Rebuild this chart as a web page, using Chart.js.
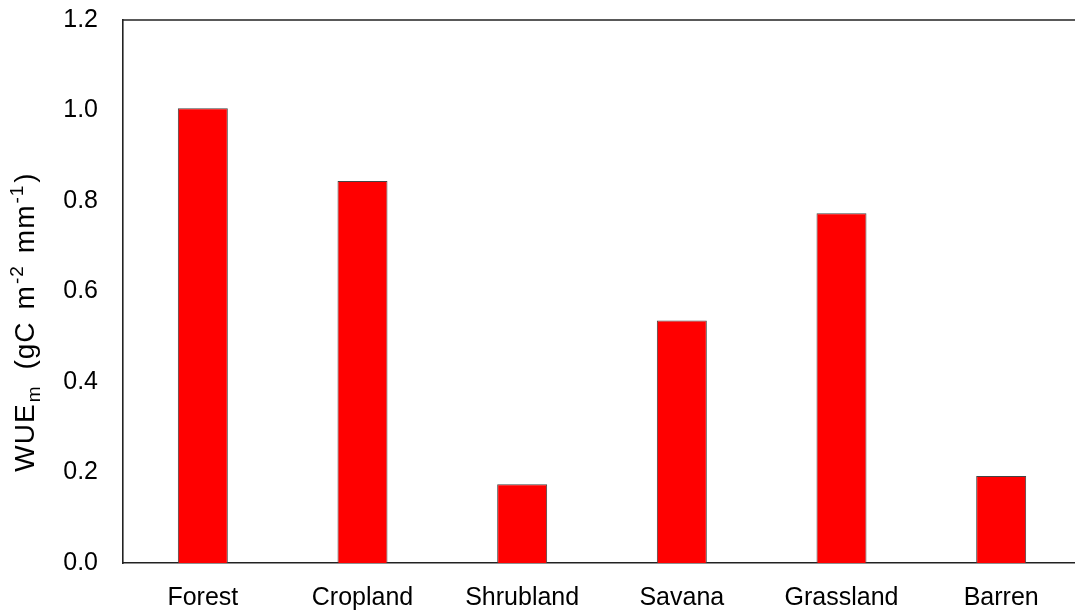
<!DOCTYPE html>
<html>
<head>
<meta charset="utf-8">
<script src="https://cdn.jsdelivr.net/npm/chart.js@4"></script>
<style>
  html, body { margin: 0; padding: 0; background: #fff; overflow: hidden; }
  #wrap { width: 1075px; height: 613px; position: relative; overflow: hidden; }
  #c { display: block; }
</style>
</head>
<body>
<div id="wrap"><canvas id="c" width="1081" height="613"></canvas></div>
<script>
// Water use efficiency by land cover type
const categories = ['Forest', 'Cropland', 'Shrubland', 'Savana', 'Grassland', 'Barren'];
const wueValues = [1.005, 0.844, 0.174, 0.536, 0.773, 0.192];
const yTicks = [0.0, 0.2, 0.4, 0.6, 0.8, 1.0, 1.2];

const FONT = '"Liberation Sans", Arial, sans-serif';
const AXIS_COLOR = '#222';

// Rotated y-axis title with subscript / superscript pieces;
// "gap" adds extra room before a piece
const yTitleParts = [
  { text: 'WUE', mode: 'normal', gap: 0 },
  { text: 'm', mode: 'sub', gap: 1 },
  { text: '(gC', mode: 'normal', gap: 16 },
  { text: 'm', mode: 'normal', gap: 12 },
  { text: '-2', mode: 'sup', gap: 1 },
  { text: 'mm', mode: 'normal', gap: 12 },
  { text: '-1', mode: 'sup', gap: 1 },
  { text: ')', mode: 'normal', gap: 2 }
];

const yTitlePlugin = {
  id: 'yTitle',
  afterDraw(chart) {
    const ctx = chart.ctx;
    const size = 28, small = 19;
    ctx.save();
    ctx.fillStyle = '#000';
    ctx.textBaseline = 'alphabetic';
    ctx.letterSpacing = '1px';
    let total = 0;
    yTitleParts.forEach(p => {
      ctx.font = (p.mode === 'normal' ? size : small) + 'px ' + FONT;
      p.w = ctx.measureText(p.text).width;
      total += p.w + p.gap;
    });
    const cx = 34, cy = 322;
    ctx.translate(cx, cy);
    ctx.rotate(-Math.PI / 2);
    let x = -total / 2;
    yTitleParts.forEach(p => {
      ctx.font = (p.mode === 'normal' ? size : small) + 'px ' + FONT;
      let dy = 0;
      if (p.mode === 'sub') dy = 6;
      if (p.mode === 'sup') dy = -11;
      x += p.gap;
      ctx.fillText(p.text, x, dy);
      x += p.w;
    });
    ctx.restore();
  }
};

// Top frame line of the plot area
const topFramePlugin = {
  id: 'topFrame',
  afterDraw(chart) {
    const { ctx, chartArea } = chart;
    ctx.save();
    ctx.strokeStyle = AXIS_COLOR;
    ctx.lineWidth = 1.6;
    ctx.beginPath();
    ctx.moveTo(chartArea.left, chartArea.top);
    ctx.lineTo(chartArea.right, chartArea.top);
    ctx.stroke();
    ctx.restore();
  }
};

new Chart(document.getElementById('c'), {
  type: 'bar',
  data: {
    labels: categories,
    datasets: [{
      data: wueValues,
      backgroundColor: '#ff0000',
      borderColor: '#444',
      borderWidth: 1,
      borderSkipped: 'bottom',
      categoryPercentage: 1.0,
      barPercentage: 0.313
    }]
  },
  options: {
    responsive: false,
    animation: false,
    devicePixelRatio: 1,
    layout: { padding: { top: 0, right: 0, left: 0, bottom: 0 } },
    plugins: {
      legend: { display: false },
      tooltip: { enabled: false }
    },
    scales: {
      x: {
        grid: { display: false, drawTicks: false },
        border: { display: true, color: AXIS_COLOR, width: 1.6 },
        ticks: { color: '#000', font: { family: FONT, size: 25 }, padding: 20, maxRotation: 0 },
        afterFit(scale) { scale.height = 50; }
      },
      y: {
        min: 0,
        max: 1.2,
        afterBuildTicks(scale) { scale.ticks = yTicks.map(v => ({ value: v })); },
        grid: { display: false, drawTicks: false },
        border: { display: true, color: AXIS_COLOR, width: 1.6 },
        ticks: {
          color: '#000',
          font: { family: FONT, size: 25 },
          padding: 25,
          callback: v => Number(v).toFixed(1)
        },
        afterFit(scale) {
          scale.width = 123;
          scale.paddingTop = 20;
          scale.paddingBottom = 0;
        }
      }
    }
  },
  plugins: [yTitlePlugin, topFramePlugin]
});
</script>
</body>
</html>
